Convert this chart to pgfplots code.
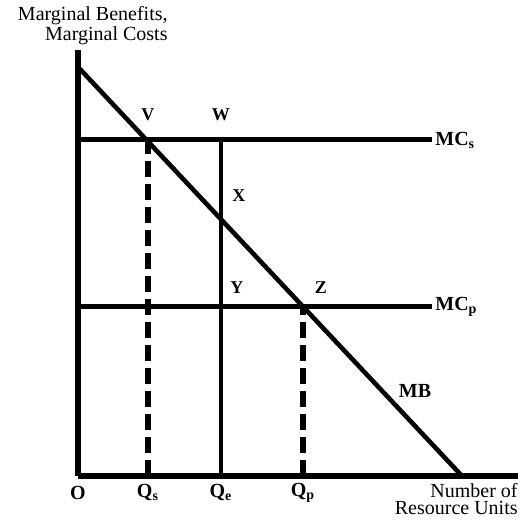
\documentclass[border=0pt]{standalone}
\usepackage{pgfplots}
\pgfplotsset{compat=1.18}
\usepackage{fontspec}
\setmainfont{Liberation Serif}
\begin{document}
\begin{tikzpicture}
\begin{axis}[
  scale only axis, width=220pt, height=213pt,
  xmin=0, xmax=440, ymin=0, ymax=426,
  axis lines=left, axis line style={line width=2.6pt,-},
  xtick=\empty, ytick=\empty, clip=false,
  every node/.style={font=\fontsize{8.4}{9.2}\selectfont},
]
\addplot[line width=2.3pt] coordinates {(0,409) (384,0)};
\addplot[line width=2.5pt] coordinates {(0,336) (354,336)};
\addplot[line width=2.5pt] coordinates {(0,169) (354,169)};
\addplot[line width=2.6pt, dash pattern=on 8pt off 3.5pt] coordinates {(70,0) (70,336)};
\addplot[line width=2.3pt] coordinates {(143,0) (143,336)};
\addplot[line width=2.6pt, dash pattern=on 8pt off 3.5pt] coordinates {(225,0) (225,169)};
\node[font=\fontsize{9}{10}\selectfont] at (axis cs:70,361) {\textbf{V}};
\node[font=\fontsize{9}{10}\selectfont] at (axis cs:143,361) {\textbf{W}};
\node[font=\fontsize{9}{10}\selectfont] at (axis cs:161,280) {\textbf{X}};
\node[font=\fontsize{9}{10}\selectfont] at (axis cs:159,188) {\textbf{Y}};
\node[font=\fontsize{9}{10}\selectfont] at (axis cs:243,188) {\textbf{Z}};
\node[anchor=west, inner sep=1pt] at (axis cs:355,336) {\textbf{MC\textsubscript{s}}};
\node[anchor=west, inner sep=1pt] at (axis cs:355,169) {\textbf{MC\textsubscript{p}}};
\node at (axis cs:337,85) {\textbf{MB}};
\node at (axis cs:0,-17) {\textbf{O}};
\node at (axis cs:70,-17) {\textbf{Q\textsubscript{s}}};
\node at (axis cs:143,-17) {\textbf{Q\textsubscript{e}}};
\node at (axis cs:225,-17) {\textbf{Q\textsubscript{p}}};
\node[anchor=base east, inner sep=0pt] at (axis cs:440,-22) {Number of};
\node[anchor=base east, inner sep=0pt] at (axis cs:440,-39) {Resource Units};
\node[anchor=base east, inner sep=0pt] at (axis cs:90,455) {Marginal Benefits,};
\node[anchor=base east, inner sep=0pt] at (axis cs:90,435) {Marginal Costs};
\coordinate (bl) at (axis cs:-78,-47);
\coordinate (tr) at (axis cs:449,476);
\end{axis}
\useasboundingbox (bl) rectangle (tr);
\end{tikzpicture}
\end{document}
